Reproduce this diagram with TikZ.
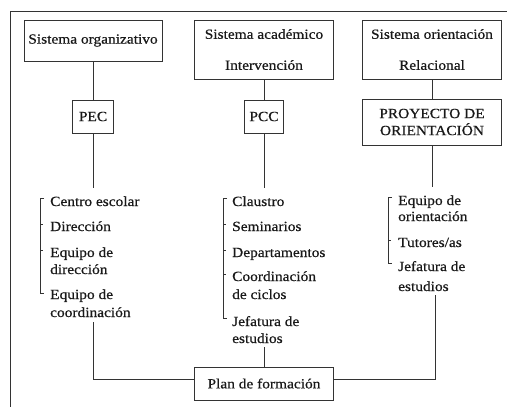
\documentclass[tikz,border=0pt]{standalone}
\usepackage{fontspec}
\setmainfont{Liberation Serif}[FakeStretch=1.1,FakeBold=0.6]
\begin{document}
\begin{tikzpicture}[x=1pt,y=-1pt,
  every node/.style={font=\fontsize{14}{17}\selectfont, text=black!90},
  sbox/.style={draw=black!80, line width=1pt, align=center, inner sep=0pt},
  conn/.style={draw=black!80, line width=1pt},
  brk/.style={draw=black!80, line width=0.8pt},
  litem/.style={anchor=base west, inner sep=0pt}]
\useasboundingbox (0,0) rectangle (507,407);
% outer frame
\draw[conn] (10,407) -- (10,11) -- (507,11);
% top boxes
\node[sbox, minimum width=138pt, minimum height=41pt] (s1) at (93,40.5) {Sistema organizativo};
\node[sbox, minimum width=139pt, minimum height=59pt] (s2) at (264,49.5) {Sistema académico\\[14pt]Intervención};
\node[sbox, minimum width=139pt, minimum height=59pt] (s3) at (432,49.5) {Sistema orientación\\[14pt]Relacional};
% middle boxes
\node[sbox, minimum width=41pt, minimum height=33pt] (pec) at (93,116.5) {PEC};
\node[sbox, minimum width=39pt, minimum height=33pt] (pcc) at (264,116.5) {PCC};
\node[sbox, minimum width=139pt, minimum height=46pt] (po) at (432,122) {PROYECTO DE\\ORIENTACIÓN};
% bottom box
\node[sbox, minimum width=139pt, minimum height=33pt] (plan) at (264,383.5) {Plan de formación};
% free ends
\coordinate (e1) at (93,188);
\coordinate (e2) at (264,188);
\coordinate (e3) at (432,187);
% connectors top
\draw[conn] (s1) -- (pec);
\draw[conn] (pec) -- (e1);
\draw[conn] (s2) -- (pcc);
\draw[conn] (pcc) -- (e2);
\draw[conn] (s3) -- (po);
\draw[conn] (po) -- (e3);
% left list
\node[litem] (a1) at (50,206) {Centro escolar};
\node[litem] (a2) at (50,231) {Dirección};
\node[litem] (a3) at (50,257) {Equipo de};
\node[litem] (a3b) at (50,274) {dirección};
\node[litem] (a4) at (50,299) {Equipo de};
\node[litem] (a4b) at (50,317) {coordinación};
\draw[brk] (44,198) -- (40,198) -- (40,293) -- (44,293);
\draw[brk] (40,224) -- (43,224);
\draw[brk] (40,250) -- (43,250);
% middle list
\node[litem] (b1) at (232,206) {Claustro};
\node[litem] (b2) at (232,231) {Seminarios};
\node[litem] (b3) at (232,257) {Departamentos};
\node[litem] (b4) at (232,281) {Coordinación};
\node[litem] (b4b) at (232,299) {de ciclos};
\node[litem] (b5) at (232,326) {Jefatura de};
\node[litem] (b5b) at (232,343) {estudios};
\draw[brk] (227,198) -- (223,198) -- (223,318) -- (227,318);
\draw[brk] (223,224) -- (226,224);
\draw[brk] (223,250) -- (226,250);
\draw[brk] (223,274) -- (226,274);
% right list
\node[litem] (c1) at (398,205) {Equipo de};
\node[litem] (c1b) at (398,221) {orientación};
\node[litem] (c2) at (398,247) {Tutores/as};
\node[litem] (c3) at (398,271) {Jefatura de};
\node[litem] (c3b) at (398,291) {estudios};
\draw[brk] (392,197) -- (388,197) -- (388,263) -- (392,263);
\draw[brk] (388,240) -- (391,240);
% bottom connectors
\coordinate (f1) at (93,322);
\coordinate (f2) at (264,347);
\coordinate (f3) at (435,295);
\draw[conn] (f1) |- ([yshift=4pt]plan.west);
\draw[conn] (f2) -- (plan.north);
\draw[conn] (f3) |- ([yshift=4pt]plan.east);
\end{tikzpicture}
\end{document}
